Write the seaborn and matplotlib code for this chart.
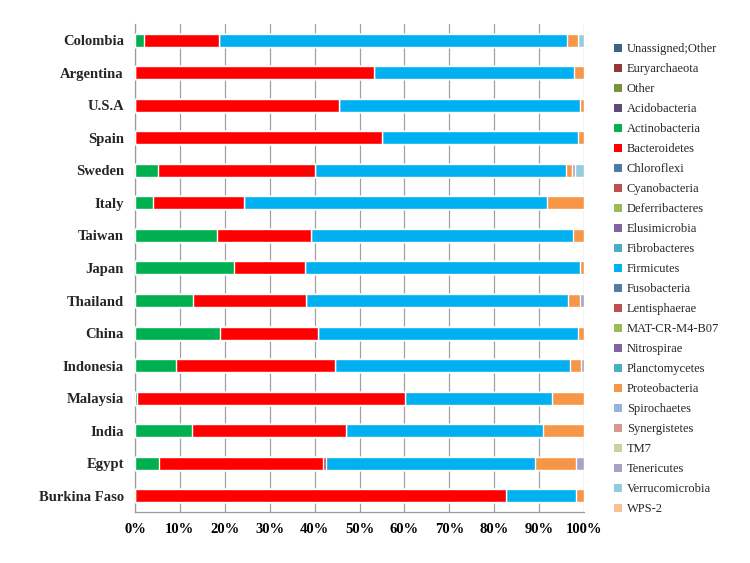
import numpy as np
import pandas as pd
import matplotlib
matplotlib.use("Agg")
import matplotlib.pyplot as plt
from matplotlib.patches import Patch
import seaborn as sns

countries = ["Colombia", "Argentina", "U.S.A", "Spain", "Sweden", "Italy", "Taiwan",
             "Japan", "Thailand", "China", "Indonesia", "Malaysia", "India", "Egypt",
             "Burkina Faso"]

phyla = ["Unassigned;Other", "Euryarchaeota", "Other", "Acidobacteria", "Actinobacteria",
         "Bacteroidetes", "Chloroflexi", "Cyanobacteria", "Deferribacteres", "Elusimicrobia",
         "Fibrobacteres", "Firmicutes", "Fusobacteria", "Lentisphaerae", "MAT-CR-M4-B07",
         "Nitrospirae", "Planctomycetes", "Proteobacteria", "Spirochaetes", "Synergistetes",
         "TM7", "Tenericutes", "Verrucomicrobia", "WPS-2"]

colors = ["#3E6184", "#953735", "#77933C", "#604A7B", "#00B050",
          "#FF0000", "#4F79A8", "#C0504D", "#9BBB59", "#8064A2",
          "#4BACC6", "#00B0F0", "#5479A6", "#C0504D", "#9BBB59",
          "#8064A2", "#4BACC6", "#F79646", "#95B3D7", "#D99694",
          "#C3D69B", "#A9A1C6", "#93CDDD", "#FAC090"]

# percentages per country (order as in `countries`)
actinobacteria = [1.9, 0, 0, 0, 5.1, 4.1, 18.2, 22.1, 12.9, 18.9, 9.1, 0.5, 12.8, 5.3, 0]
bacteroidetes = [16.9, 53.3, 45.5, 55.1, 34.9, 20.2, 21.0, 15.8, 25.2, 21.8, 35.5, 59.6, 34.2, 36.5, 82.7]
cyanobacteria = [0, 0, 0, 0, 0, 0, 0, 0, 0, 0, 0, 0, 0, 0.8, 0]
firmicutes = [77.5, 44.5, 53.6, 43.5, 55.9, 67.4, 58.4, 61.1, 58.4, 57.9, 52.3, 32.8, 43.9, 46.4, 15.6]
proteobacteria = [2.4, 2.2, 0.9, 1.4, 1.5, 8.3, 2.4, 1.0, 2.7, 1.4, 2.4, 7.1, 9.1, 9.3, 1.7]
tenericutes = [0, 0, 0, 0, 0.5, 0, 0, 0, 0.8, 0, 0.7, 0, 0, 1.7, 0]
verrucomicrobia = [1.3, 0, 0, 0, 2.1, 0, 0, 0, 0, 0, 0, 0, 0, 0, 0]

values = {p: [0.0] * len(countries) for p in phyla}
values["Actinobacteria"] = actinobacteria
values["Bacteroidetes"] = bacteroidetes
values["Cyanobacteria"] = cyanobacteria
values["Firmicutes"] = firmicutes
values["Proteobacteria"] = proteobacteria
values["Tenericutes"] = tenericutes
values["Verrucomicrobia"] = verrucomicrobia

df = pd.DataFrame(values, index=countries)
cum = df.cumsum(axis=1)

sns.set_style("white")
plt.rcParams["font.family"] = ["Liberation Serif", "DejaVu Serif"]

fig = plt.figure(figsize=(7.5, 5.63), dpi=100)
ax = fig.add_axes([0.18, 0.0906, 0.5987, 0.8668])

# stacked bars drawn as overlapping cumulative bars (last phylum first)
for p, c in reversed(list(zip(phyla, colors))):
    if df[p].sum() == 0:
        continue
    d = pd.DataFrame({"country": countries, "val": cum[p].values})
    sns.barplot(data=d, x="val", y="country", order=countries, orient="h",
                color=c, width=0.4, saturation=1, ax=ax, zorder=3, errorbar=None)

ax.set_xlim(0, 100)
ax.set_ylim(len(countries) - 0.5, -0.5)
ax.set_xticks(np.arange(0, 101, 10))
ax.set_xticklabels([f"{v}%" for v in range(0, 101, 10)], fontsize=10.5, fontweight="bold")
ax.set_yticks(range(len(countries)))
ax.set_yticklabels(countries, fontsize=10.5, fontweight="bold")
ax.set_xlabel("")
ax.set_ylabel("")

ax.xaxis.grid(True, color="#A0A0A0", linewidth=0.9, zorder=0)
ax.yaxis.grid(False)
ax.set_axisbelow(True)
for s in ["top", "right"]:
    ax.spines[s].set_visible(False)
for s in ["left", "bottom"]:
    ax.spines[s].set_color("#9A9A9A")
    ax.spines[s].set_linewidth(0.9)

ax.tick_params(axis="x", length=0, pad=8, colors="black")
ax.tick_params(axis="y", length=0, pad=8)
# minor ticks at category boundaries on the y axis
ax.set_yticks(np.arange(-0.5, len(countries), 1), minor=True)
ax.tick_params(axis="y", which="minor", length=3, color="#9A9A9A", width=0.9)

handles = [Patch(facecolor=c, edgecolor="none", label=p) for p, c in zip(phyla, colors)]
leg = fig.legend(handles=handles, loc="upper left", bbox_to_anchor=(0.819, 0.923),
                 frameon=False, fontsize=9, handlelength=0.65, handleheight=0.65,
                 handletextpad=0.35, labelspacing=0.64, borderaxespad=0, borderpad=0)

fig.savefig("out.png", dpi=100)
